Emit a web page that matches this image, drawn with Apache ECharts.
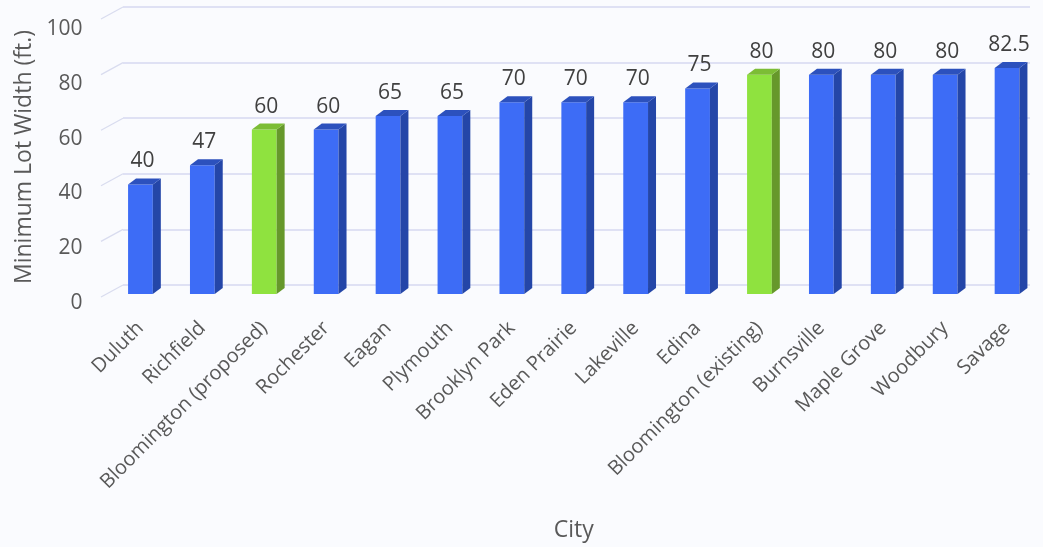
<!DOCTYPE html>
<html>
<head>
<meta charset="utf-8">
<script src="https://cdn.jsdelivr.net/npm/echarts@6/dist/echarts.min.js"></script>
<style>html,body{margin:0;padding:0;background:#fafbfe;}#c{width:1043px;height:547px;}</style>
</head>
<body>
<div id="c"></div>
<script>
const cities = ["Duluth","Richfield","Bloomington (proposed)","Rochester","Eagan","Plymouth","Brooklyn Park","Eden Prairie","Lakeville","Edina","Bloomington (existing)","Burnsville","Maple Grove","Woodbury","Savage"];
const widths = [40,47,60,60,65,65,70,70,70,75,80,80,80,80,82.5];
const highlighted = [false,false,true,false,false,false,false,false,false,false,true,false,false,false,false];
const yTicks = [0,20,40,60,80,100];

const FONT = "'Open Sans', 'Noto Sans', sans-serif";
const blue = {front:'#3d6cf6', side:'#2446a8', top:'#2c51bd'};
const green = {front:'#8fe23f', side:'#66982b', top:'#7cbd35'};

const chart = echarts.init(document.getElementById('c'));

function renderBar(params, api) {
  const i = api.value(0), v = api.value(1);
  const p0 = api.coord([i, 0]);
  const p1 = api.coord([i, v]);
  const w = api.size([1, 0])[0] * 0.4;
  const dx = 8, dy = -6;
  const xl = p0[0] - w / 2, xr = p0[0] + w / 2;
  const yb = p0[1], yt = p1[1];
  const c = highlighted[params.dataIndex] ? green : blue;
  return {
    type: 'group',
    children: [
      {type:'rect', shape:{x:xl, y:yt, width:w, height:yb-yt}, style:{fill:c.front}},
      {type:'polygon', shape:{points:[[xr,yt],[xr+dx,yt+dy],[xr+dx,yb+dy],[xr,yb]]}, style:{fill:c.side}},
      {type:'polygon', shape:{points:[[xl,yt],[xl+dx,yt+dy],[xr+dx,yt+dy],[xr,yt]]}, style:{fill:c.top}},
      {type:'text', x:p0[0]+2, y:yt-23, style:{text:String(v), fill:'#404040', font:'21px ' + FONT, align:'center', verticalAlign:'middle'}}
    ]
  };
}

function renderWall(params, api) {
  const v = api.value(0);
  const p = api.coord([0, v]);
  const x = params.coordSys.x;
  return {type:'line', shape:{x1:x, y1:p[1], x2:x-22, y2:p[1]+12}, style:{stroke:'#d9dcef', lineWidth:1.2}};
}

chart.setOption({
  backgroundColor: '#fafbfe',
  animation: false,
  grid: [
    {left:123, right:13, top:7, height:278},
    {left:109.5, right:5, top:20, height:275}
  ],
  xAxis: [
    {gridIndex:0, type:'category', data:cities, show:false},
    {gridIndex:1, type:'category', data:cities,
     axisLine:{show:false}, axisTick:{show:false},
     axisLabel:{rotate:45, interval:0, margin:31, fontSize:20, color:'#595959', fontFamily:FONT},
     name:'City', nameLocation:'middle', nameGap:225,
     nameTextStyle:{fontSize:23, color:'#595959', fontFamily:FONT}}
  ],
  yAxis: [
    {gridIndex:0, type:'value', min:0, max:100, interval:20,
     axisLabel:{show:false}, axisLine:{show:false}, axisTick:{show:false},
     splitLine:{lineStyle:{color:'#d6d9f0', width:1.5}}},
    {gridIndex:1, type:'value', min:0, max:100, interval:20,
     axisLine:{show:false}, axisTick:{show:false}, splitLine:{show:false},
     axisLabel:{margin:27, color:'#595959',
       formatter: function(val){ return yTicks.indexOf(val) >= 0 ? '{t|' + val + '}' : ''; },
       rich:{t:{fontSize:21, color:'#595959', fontFamily:FONT, padding:[18,0,0,0]}}},
     name:'Minimum Lot Width (ft.)', nameLocation:'middle', nameGap:72,
     nameTextStyle:{fontSize:23, color:'#595959', fontFamily:FONT}}
  ],
  series: [
    {type:'custom', xAxisIndex:0, yAxisIndex:0, renderItem:renderWall, data:yTicks.map(v=>[v]), silent:true, z:1},
    {type:'custom', xAxisIndex:1, yAxisIndex:1, renderItem:renderBar,
     data:widths.map((v,i)=>[i,v]), encode:{x:0,y:1}, z:2}
  ]
});
</script>
</body>
</html>
